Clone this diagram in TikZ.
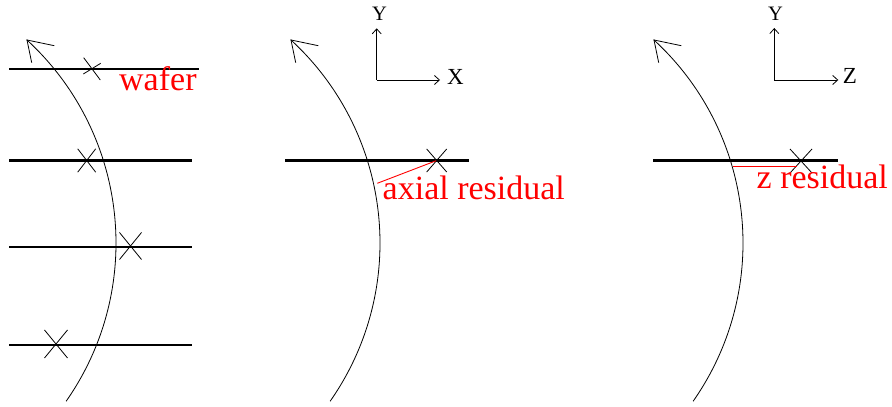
\documentclass[tikz,border=0pt]{standalone}
\usepackage{fontspec}
\setmainfont{Liberation Serif}
\usetikzlibrary{arrows.meta}
\newcommand\mycross[4]{%
  \draw[thin line] (#1-#3,#2+#4) -- (#1+#3,#2-#4);
  \draw[thin line] (#1-#3,#2-#4) -- (#1+#3,#2+#4);}
\begin{document}
\begin{tikzpicture}[x=1pt,y=1pt,
  thin line/.style={line width=0.8pt,black},
  wafer line/.style={line width=2.1pt,black},
  red line/.style={line width=0.9pt,red},
  big label/.style={text=red,font=\fontsize{34}{40}\selectfont,inner sep=0pt,anchor=base west},
  axis line/.style={line width=0.8pt,-{Straight Barb[length=5pt,width=9pt,line width=0.8pt]}},
  small label/.style={font=\fontsize{20.5}{24}\selectfont,inner sep=0pt,anchor=base},
  axis label/.style={font=\fontsize{23}{27}\selectfont,inner sep=0pt,anchor=base}]
\useasboundingbox (0,0) rectangle (892,407);

% trajectories with open arrowheads
\foreach \dx/\nm in {0/a,264/b,627/c}{
  \coordinate (tc\nm) at (-160+\dx,164);
  \coordinate (tip\nm) at (27+\dx,367);
  \draw[thin line] (tc\nm) ++(-35:276) arc[start angle=-35,end angle=47.4,radius=276];
  \draw[thin line] (54.3+\dx,361.3) -- (tip\nm) -- (31.7+\dx,344.3);
}

% panel 1 wafers
\draw[wafer line] (9,338) -- (199,338);
\draw[wafer line] (9,246.5) -- (192,246.5);
\draw[wafer line] (9,160) -- (192,160);
\draw[wafer line] (9,62) -- (192,62);
\draw[thin line] (83.7,349.3) -- (100.3,327);
\draw[thin line] (83.3,333) -- (100.7,343.7);
\mycross{86.7}{246.5}{9}{11.7}
\mycross{130.5}{161}{11}{13.5}
\mycross{56}{63}{11.5}{14}
\node[big label] (wafer) at (119,316) {wafer};

% panel 2
\draw[wafer line] (285,246.5) -- (469,246.5);
\mycross{436.7}{246.5}{10}{11.5}
\coordinate (ra) at (377.3,223.7);
\coordinate (rb) at (436.2,246.3);
\draw[red line] (ra) -- (rb);
\node[big label] (axial) at (382.5,207) {axial residual};
\coordinate (o2) at (376.7,327);
\draw[axis line] (o2) -- (376.7,378.7);
\draw[axis line] (o2) -- (440,327);
\node[small label] (y2) at (379.5,386) {Y};
\node[axis label] (x2) at (455.5,322) {X};

% panel 3
\draw[wafer line] (653,246.5) -- (838,246.5);
\mycross{801}{246}{11}{12}
\coordinate (za) at (733,241);
\coordinate (zb) at (797,241);
\draw[red line] (za) -- (zb);
\node[big label] (zres) at (756.5,218) {z residual};
\coordinate (o3) at (774.3,327);
\draw[axis line] (o3) -- (774.3,379);
\draw[axis line] (o3) -- (838.3,327);
\node[small label] (y3) at (775.5,386) {Y};
\node[axis label] (z3) at (850,323.7) {Z};
\end{tikzpicture}
\end{document}
